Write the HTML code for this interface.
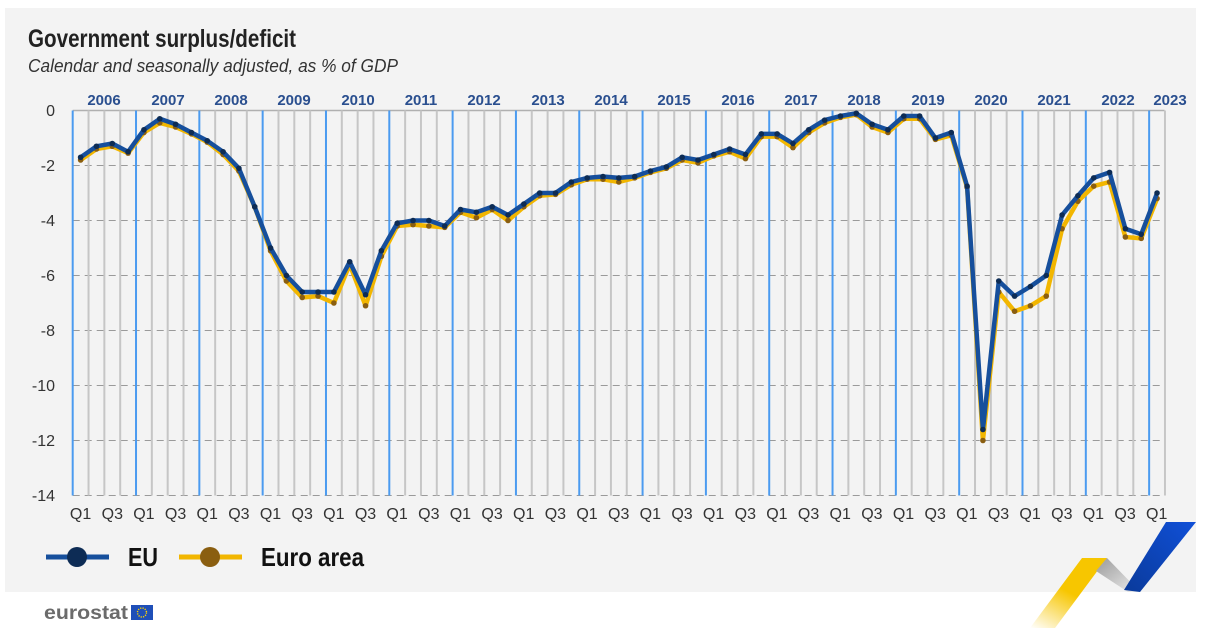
<!DOCTYPE html>
<html><head><meta charset="utf-8"><style>
body{margin:0;background:#fff;width:1230px;height:634px;overflow:hidden}
svg{display:block}
text{font-family:"Liberation Sans Narrow","Liberation Sans",sans-serif}
</style></head><body>
<svg id="s" width="1230" height="634" xmlns="http://www.w3.org/2000/svg">
<defs>
<linearGradient id="gy" x1="0" y1="1" x2="0.6" y2="0"><stop offset="0" stop-color="#fff"/><stop offset="0.6" stop-color="#f7c600"/><stop offset="1" stop-color="#f7c600"/></linearGradient>
<linearGradient id="gg" x1="0" y1="0" x2="1" y2="1"><stop offset="0" stop-color="#999"/><stop offset="1" stop-color="#eee"/></linearGradient>
<linearGradient id="gb" x1="0" y1="1" x2="1" y2="0"><stop offset="0" stop-color="#0a3a9a"/><stop offset="1" stop-color="#1050d8"/></linearGradient>
</defs>
<rect x="5" y="8" width="1191" height="584" fill="#f3f3f3"/>
<text x="28" y="47" font-size="25" font-weight="bold" fill="#222" textLength="268" lengthAdjust="spacingAndGlyphs">Government surplus/deficit</text>
<text x="28" y="72" font-size="18" font-style="italic" fill="#333" textLength="370" lengthAdjust="spacingAndGlyphs">Calendar and seasonally adjusted, as % of GDP</text>
<g id="grid"></g>
<g font-size="16" fill="#333" text-anchor="end">
<text x="55" y="116">0</text><text x="55" y="171">-2</text><text x="55" y="226">-4</text><text x="55" y="281">-6</text><text x="55" y="336">-8</text><text x="55" y="391">-10</text><text x="55" y="446">-12</text><text x="55" y="501">-14</text>
</g>
<g font-size="15" font-weight="bold" fill="#2a4f8f" text-anchor="middle">
<text x="104" y="105">2006</text><text x="168" y="105">2007</text><text x="231" y="105">2008</text><text x="294" y="105">2009</text><text x="358" y="105">2010</text><text x="421" y="105">2011</text><text x="484" y="105">2012</text><text x="548" y="105">2013</text><text x="611" y="105">2014</text><text x="674" y="105">2015</text><text x="738" y="105">2016</text><text x="801" y="105">2017</text><text x="864" y="105">2018</text><text x="928" y="105">2019</text><text x="991" y="105">2020</text><text x="1054" y="105">2021</text><text x="1118" y="105">2022</text><text x="1170" y="105">2023</text>
</g>
<g id="ql" font-size="16" fill="#333" text-anchor="middle">
<text x="80.6" y="519">Q1</text><text x="112.3" y="519">Q3</text><text x="143.9" y="519">Q1</text><text x="175.6" y="519">Q3</text><text x="207.2" y="519">Q1</text><text x="238.9" y="519">Q3</text><text x="270.5" y="519">Q1</text><text x="302.2" y="519">Q3</text><text x="333.8" y="519">Q1</text><text x="365.5" y="519">Q3</text><text x="397.1" y="519">Q1</text><text x="428.8" y="519">Q3</text><text x="460.4" y="519">Q1</text><text x="492.1" y="519">Q3</text><text x="523.7" y="519">Q1</text><text x="555.4" y="519">Q3</text><text x="587" y="519">Q1</text><text x="618.7" y="519">Q3</text><text x="650.3" y="519">Q1</text><text x="682" y="519">Q3</text><text x="713.6" y="519">Q1</text><text x="745.3" y="519">Q3</text><text x="776.9" y="519">Q1</text><text x="808.6" y="519">Q3</text><text x="840.2" y="519">Q1</text><text x="871.9" y="519">Q3</text><text x="903.5" y="519">Q1</text><text x="935.2" y="519">Q3</text><text x="966.8" y="519">Q1</text><text x="998.5" y="519">Q3</text><text x="1030.1" y="519">Q1</text><text x="1061.8" y="519">Q3</text><text x="1093.4" y="519">Q1</text><text x="1125.1" y="519">Q3</text><text x="1156.7" y="519">Q1</text>
</g>
<g id="series"></g>
<line x1="46" y1="557" x2="109" y2="557" stroke="#164f9c" stroke-width="5"/>
<circle cx="77" cy="557" r="10" fill="#0d2c55"/>
<text x="128" y="566" font-size="26" font-weight="bold" fill="#111" textLength="30" lengthAdjust="spacingAndGlyphs">EU</text>
<line x1="179" y1="557" x2="242" y2="557" stroke="#f2b600" stroke-width="5"/>
<circle cx="210" cy="557" r="10" fill="#8a5e10"/>
<text x="261" y="566" font-size="26" font-weight="bold" fill="#111" textLength="103" lengthAdjust="spacingAndGlyphs">Euro area</text>
<text x="44" y="619" font-size="19" font-weight="bold" fill="#6b6b6b" font-family="Liberation Sans,sans-serif" textLength="84" lengthAdjust="spacingAndGlyphs">eurostat</text>
<rect x="131" y="605" width="22" height="15" fill="#1f4fb8"/>
<circle cx="142" cy="612.5" r="4.5" fill="none" stroke="#ffd500" stroke-width="1.4" stroke-dasharray="1.2 1.2"/>
<polygon points="1030,628 1082,558 1107,558 1055,628" fill="url(#gy)"/>
<polygon points="1096,571 1107,558 1140,592 1128,592" fill="url(#gg)"/>
<polygon points="1124,590 1166,522 1196,522 1140,592" fill="url(#gb)"/>
</svg>
<script>
var ns="http://www.w3.org/2000/svg";
function el(p,t,a){var e=document.createElementNS(ns,t);for(var k in a)e.setAttribute(k,a[k]);p.appendChild(e);return e;}
var g=document.getElementById("grid"),X0=72.7,Q=15.83;
function Y(v){return 110.5+v*-27.5;}
for(var v=-2;v>=-14;v-=2)el(g,"line",{x1:X0,x2:1164.6,y1:Y(v),y2:Y(v),stroke:"#9a9a9a","stroke-width":1,"stroke-dasharray":"7 5"});
el(g,"line",{x1:X0,x2:1164.6,y1:Y(0),y2:Y(0),stroke:"#b0b0b0","stroke-width":1.5});
for(var i=0;i<=69;i++){var x=X0+i*Q;var blue=(i%4==0&&i<69);el(g,"line",{x1:x,x2:x,y1:Y(0),y2:Y(-14),stroke:blue?"#4b9bf0":"#c6c6c6","stroke-width":2});}
var eu=[-1.7,-1.3,-1.2,-1.5,-0.7,-0.3,-0.5,-0.8,-1.1,-1.5,-2.1,-3.5,-5.0,-6.0,-6.6,-6.6,-6.6,-5.5,-6.7,-5.1,-4.1,-4.0,-4.0,-4.2,-3.6,-3.7,-3.5,-3.8,-3.4,-3.0,-3.0,-2.6,-2.45,-2.4,-2.45,-2.4,-2.2,-2.05,-1.7,-1.8,-1.6,-1.4,-1.6,-0.85,-0.85,-1.2,-0.7,-0.35,-0.2,-0.1,-0.5,-0.7,-0.2,-0.2,-1.0,-0.8,-2.75,-11.6,-6.2,-6.75,-6.4,-6.0,-3.8,-3.1,-2.45,-2.25,-4.3,-4.5,-3.0];
var ea=[-1.8,-1.4,-1.3,-1.55,-0.8,-0.45,-0.6,-0.85,-1.15,-1.6,-2.2,-3.5,-5.1,-6.2,-6.8,-6.75,-7.0,-5.6,-7.1,-5.3,-4.2,-4.15,-4.2,-4.25,-3.7,-3.9,-3.6,-4.0,-3.5,-3.1,-3.05,-2.7,-2.5,-2.5,-2.6,-2.45,-2.25,-2.1,-1.8,-1.9,-1.65,-1.5,-1.75,-0.95,-0.95,-1.35,-0.8,-0.45,-0.25,-0.15,-0.6,-0.8,-0.3,-0.3,-1.05,-0.9,-2.8,-12.0,-6.6,-7.3,-7.1,-6.75,-4.3,-3.3,-2.75,-2.6,-4.6,-4.65,-3.2];
var s=document.getElementById("series");
function draw(d,lc,dc,w){var p=d.map(function(v,i){return (X0+(i+0.5)*Q).toFixed(1)+","+Y(v).toFixed(1)}).join(" ");
el(s,"polyline",{points:p,fill:"none",stroke:lc,"stroke-width":w,"stroke-linejoin":"round"});
d.forEach(function(v,i){el(s,"circle",{cx:X0+(i+0.5)*Q,cy:Y(v),r:2.8,fill:dc});});}
draw(ea,"#f2b600","#8a5e10",4.5);
draw(eu,"#164f9c","#0d2c55",4.5);
</script>
</body></html>
